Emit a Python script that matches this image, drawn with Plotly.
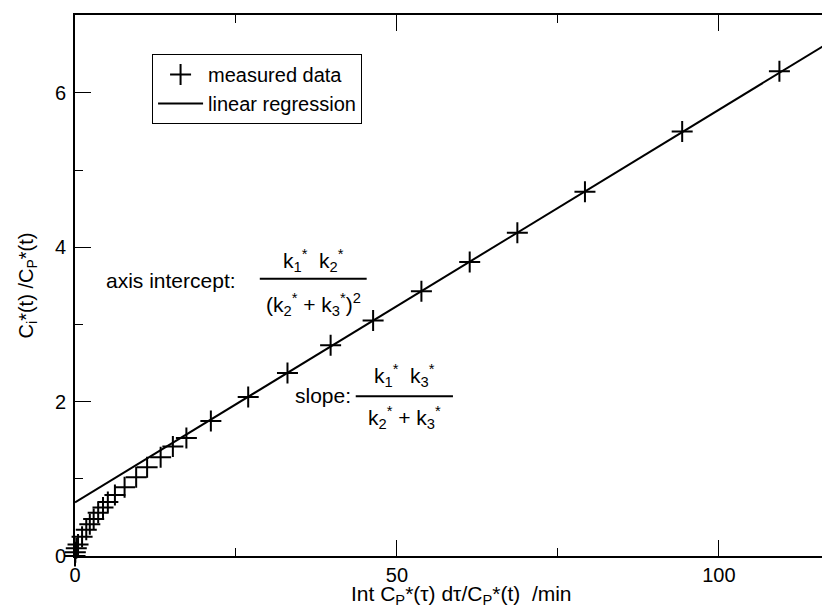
import plotly.graph_objects as go

# measured points
x_meas = [0, 0.05, 0.2, 0.47, 1.1, 1.75, 2.3, 2.9, 3.6, 4.35, 5.1, 6.2, 7.7, 9.5,
          11.2, 13.3, 15.2, 17.3, 21.1, 26.9, 33.0, 39.7, 46.3, 53.8, 61.3, 68.7,
          79.2, 94.3, 109.4]
y_meas = [0, 0.05, 0.10, 0.15, 0.25, 0.34, 0.41, 0.48, 0.56, 0.63, 0.70, 0.79,
          0.89, 1.02, 1.15, 1.28, 1.42, 1.53, 1.75, 2.06, 2.37, 2.73, 3.05, 3.43,
          3.81, 4.19, 4.72, 5.50, 6.28]

# regression line end points
x_fit = [0, 120]
y_fit = [0.695, 6.80]

x_ticks = [0, 50, 100]
y_ticks = [0, 2, 4, 6]

FONT = "Liberation Sans, Arial, Helvetica, sans-serif"

fig = go.Figure()

fig.add_trace(go.Scatter(
    x=x_meas, y=y_meas, mode="markers", name="measured data",
    marker=dict(symbol="cross-thin", size=15, color="black",
                line=dict(color="black", width=2)),
    cliponaxis=False,
))
fig.add_trace(go.Scatter(
    x=x_fit, y=y_fit, mode="lines", name="linear regression",
    line=dict(color="black", width=2),
))
# dummy trace for the right-hand tick stubs
fig.add_trace(go.Scatter(x=[None], y=[None], yaxis="y2", showlegend=False))

annotations = [
    dict(x=25.3, y=3.575, text="axis intercept:", xanchor="right"),
    dict(x=37.0, y=3.834, text="k<sub>1</sub><sup>*</sup>  k<sub>2</sub><sup>*</sup>"),
    dict(x=37.0, y=3.264, text="(k<sub>2</sub><sup>*</sup> + k<sub>3</sub><sup>*</sup>)<sup>2</sup>"),
    dict(x=43.2, y=2.085, text="slope:", xanchor="right"),
    dict(x=51.2, y=2.345, text="k<sub>1</sub><sup>*</sup>  k<sub>3</sub><sup>*</sup>"),
    dict(x=51.2, y=1.79, text="k<sub>2</sub><sup>*</sup> + k<sub>3</sub><sup>*</sup>"),
]
for a in annotations:
    a.update(xref="x", yref="y", showarrow=False,
             font=dict(family=FONT, size=21, color="black"))
annotations.append(dict(
    xref="x", yref="paper", x=60, y=-0.073, yanchor="middle", showarrow=False,
    text="Int C<sub>P</sub>*(\u03c4) d\u03c4/C<sub>P</sub>*(t)  /min",
    font=dict(family=FONT, size=21, color="black"),
))

shapes = [
    dict(type="line", xref="x", yref="y", x0=28.7, x1=45.3, y0=3.592, y1=3.592,
         line=dict(color="black", width=2)),
    dict(type="line", xref="x", yref="y", x0=43.6, x1=58.7, y0=2.07, y1=2.07,
         line=dict(color="black", width=2)),
]

fig.update_layout(
    width=830, height=607,
    margin=dict(l=67, r=0, t=7, b=59),
    paper_bgcolor="white", plot_bgcolor="white",
    font=dict(family=FONT, size=20, color="black"),
    showlegend=True,
    legend=dict(x=0.101, y=0.928, xanchor="left", yanchor="top",
                bordercolor="black", borderwidth=1, bgcolor="white",
                font=dict(family=FONT, size=20), tracegroupgap=0,
                itemwidth=45),
    annotations=annotations,
    shapes=shapes,
    xaxis=dict(
        range=[0, 118.5], tickvals=x_ticks, ticks="inside", ticklen=16,
        tickwidth=1, tickcolor="black", showline=True, linecolor="black",
        linewidth=2, mirror="ticks", showgrid=False, zeroline=False,
        minor=dict(dtick=25, tick0=0, ticks="inside", ticklen=8,
                   tickwidth=1, tickcolor="black"),
    ),
    yaxis=dict(
        range=[0, 7.01], tickvals=y_ticks, ticks="inside", ticklen=16,
        tickwidth=1, tickcolor="black", showline=True, linecolor="black",
        linewidth=2, showgrid=False, zeroline=False, ticklabelstandoff=3,
        title=dict(text="C<sub>i</sub>*(t) /C<sub>P</sub>*(t)", standoff=16,
                   font=dict(family=FONT, size=20)),
        minor=dict(dtick=1, tick0=0, ticks="inside", ticklen=8,
                   tickwidth=1, tickcolor="black"),
    ),
    yaxis2=dict(
        range=[0, 7.01], overlaying="y", side="right", anchor="x",
        tickvals=[2, 4, 6], ticks="inside", ticklen=5, tickwidth=1,
        tickcolor="#555555", showticklabels=False, showline=False,
        showgrid=False, zeroline=False,
    ),
)

fig.write_html("out.html")
